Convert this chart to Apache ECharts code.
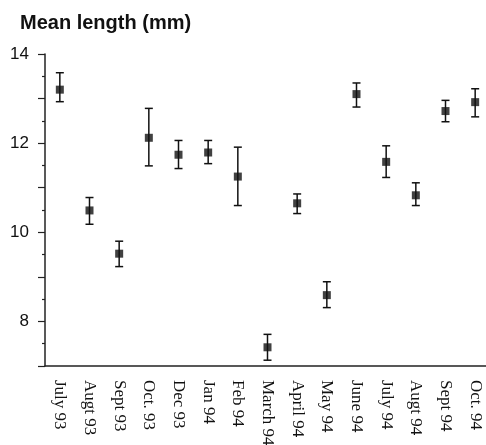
<!DOCTYPE html>
<html>
<head>
<meta charset="utf-8">
<script src="https://cdn.jsdelivr.net/npm/echarts@6/dist/echarts.min.js"></script>
<style>
  html, body { margin: 0; padding: 0; background: #fff; }
  #chart { width: 486px; height: 445px; }
</style>
</head>
<body>
<div id="chart"></div>
<script>
// data
var months = ['July 93', 'Augt 93', 'Sept 93', 'Oct. 93', 'Dec 93', 'Jan 94', 'Feb 94',
  'March 94', 'April 94', 'May 94', 'June 94', 'July 94', 'Augt 94', 'Sept 94', 'Oct. 94']
var meanLength = [13.20, 10.49, 9.52, 12.12, 11.74, 11.79, 11.25, 7.42, 10.65, 8.59, 13.10, 11.58, 10.83, 12.72, 12.92]
var upperErr = [13.58, 10.78, 9.80, 12.78, 12.06, 12.06, 11.91, 7.71, 10.86, 8.89, 13.35, 11.94, 11.11, 12.96, 13.22]
var lowerErr = [12.93, 10.18, 9.23, 11.49, 11.43, 11.54, 10.60, 7.13, 10.42, 8.31, 12.81, 11.23, 10.60, 12.48, 12.59]
var yTicks = [8, 10, 12, 14]

var errData = months.map(function (m, i) {
  return [i, lowerErr[i], upperErr[i]]
})

var chart = echarts.init(document.getElementById('chart'))
chart.setOption({
  backgroundColor: '#fff',
  animation: false,
  title: {
    text: 'Mean length (mm)',
    left: 15,
    top: 8,
    textStyle: {
      fontFamily: 'Liberation Sans',
      fontWeight: 'bold',
      fontSize: 20,
      color: '#111'
    }
  },
  grid: {
    left: 45,
    top: 54,
    width: 445,
    bottom: 79,
    outerBoundsMode: 'none'
  },
  xAxis: {
    type: 'category',
    data: months,
    boundaryGap: true,
    axisLine: { lineStyle: { color: '#222', width: 1.5 } },
    axisTick: { alignWithLabel: true, length: 7, lineStyle: { color: '#222', width: 1.5 } },
    axisLabel: {
      rotate: -90,
      margin: 14,
      interval: 0,
      fontFamily: 'Liberation Serif',
      fontSize: 17,
      color: '#111'
    },
    splitLine: { show: false }
  },
  yAxis: {
    type: 'value',
    min: 7,
    max: 14,
    interval: 1,
    axisLine: { show: true, lineStyle: { color: '#222', width: 1.5 } },
    axisTick: { show: true, length: 7, lineStyle: { color: '#222', width: 1.2 } },
    minorTick: { show: true, splitNumber: 2, length: 3, lineStyle: { color: '#222', width: 1.2 } },
    splitLine: { show: false },
    axisLabel: {
      margin: 16,
      fontFamily: 'Liberation Sans',
      fontSize: 17,
      color: '#111',
      formatter: function (v) {
        return yTicks.indexOf(v) >= 0 ? String(v) : ''
      }
    }
  },
  series: [
    {
      type: 'custom',
      name: 'error',
      data: errData,
      renderItem: function (params, api) {
        var x = api.value(0)
        var lo = api.coord([x, api.value(1)])
        var hi = api.coord([x, api.value(2)])
        var hw = 4
        var style = { stroke: '#111', lineWidth: 1.5 }
        return {
          type: 'group',
          children: [
            { type: 'line', shape: { x1: hi[0], y1: hi[1], x2: lo[0], y2: lo[1] }, style: style },
            { type: 'line', shape: { x1: hi[0] - hw, y1: hi[1], x2: hi[0] + hw, y2: hi[1] }, style: style },
            { type: 'line', shape: { x1: lo[0] - hw, y1: lo[1], x2: lo[0] + hw, y2: lo[1] }, style: style }
          ]
        }
      },
      z: 2
    },
    {
      type: 'scatter',
      name: 'Mean length',
      data: meanLength,
      symbol: 'rect',
      symbolSize: 8,
      itemStyle: { color: '#111' },
      z: 3
    }
  ]
})
</script>
</body>
</html>
